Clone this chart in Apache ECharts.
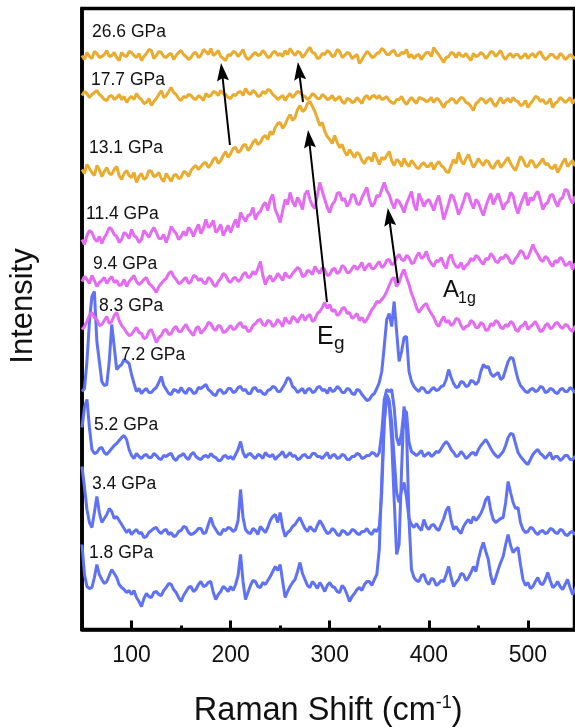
<!DOCTYPE html>
<html><head><meta charset="utf-8">
<script src="https://cdn.jsdelivr.net/npm/echarts@6/dist/echarts.min.js"></script>
<style>html,body{margin:0;padding:0;background:#fff}#c{width:575px;height:727px}</style>
</head><body><div id="c"></div>
<script>
// Raman shift grid (cm^-1)
const shifts = [
 50,52.5,55,57.5,60,62.5,65,67.5,70,72.5,75,77.5,80,82.5,85,87.5,90,92.5,95,97.5,
 100,102.5,105,107.5,110,112.5,115,117.5,120,122.5,125,127.5,130,132.5,135,137.5,140,142.5,145,147.5,
 150,152.5,155,157.5,160,162.5,165,167.5,170,172.5,175,177.5,180,182.5,185,187.5,190,192.5,195,197.5,
 200,202.5,205,207.5,210,212.5,215,217.5,220,222.5,225,227.5,230,232.5,235,237.5,240,242.5,245,247.5,
 250,252.5,255,257.5,260,262.5,265,267.5,270,272.5,275,277.5,280,282.5,285,287.5,290,292.5,295,297.5,
 300,302.5,305,307.5,310,312.5,315,317.5,320,322.5,325,327.5,330,332.5,335,337.5,340,342.5,345,347.5,
 350,352.5,355,357.5,360,362.5,365,367.5,370,372.5,375,377.5,380,382.5,385,387.5,390,392.5,395,397.5,
 400,402.5,405,407.5,410,412.5,415,417.5,420,422.5,425,427.5,430,432.5,435,437.5,440,442.5,445,447.5,
 450,452.5,455,457.5,460,462.5,465,467.5,470,472.5,475,477.5,480,482.5,485,487.5,490,492.5,495,497.5,
 500,502.5,505,507.5,510,512.5,515,517.5,520,522.5,525,527.5,530,532.5,535,537.5,540,542.5,545,547.5,
 550];

const pressures = ['1.8 GPa','3.4 GPa','5.2 GPa','7.2 GPa','8.3 GPa','9.4 GPa','11.4 GPa','13.1 GPa','17.7 GPa','26.6 GPa'];
// vertical stacking offsets (arbitrary intensity units)
const offsets = [40, 97, 172, 238, 300, 348, 390, 460, 532, 572];

const p18 = [
 45,15,3,1,2,12,25,15,10,6,8,14,20,16,12,5,2,0,-3,-1,
 -5,-1,-8,-12,-17,-9,-4,-7,-8,-3,-2,-5,-6,-1,2,6,5,0,-3,-8,
 -12,-6,-2,2,3,-2,0,5,8,3,4,7,8,-3,-10,-5,-2,3,1,-2,
 3,-1,5,14,35,8,-10,-3,4,9,8,3,2,7,5,9,13,18,23,19,
 25,8,-8,-2,3,7,10,18,27,16,10,4,2,8,5,1,7,3,-2,4,
 7,3,2,-2,-3,4,1,-5,-12,-7,-4,0,2,-1,5,8,8,4,10,15,
 40,110,170,192,185,150,90,35,45,120,183,160,70,20,12,9,8,14,15,8,
 5,11,10,4,6,9,8,15,23,12,3,7,10,16,15,9,12,17,23,18,
 30,40,47,38,30,14,5,12,20,27,33,45,55,44,37,40,42,25,10,4,
 7,1,3,8,12,6,5,10,17,9,2,4,8,3,0,5,10,2,-5,0,
 6];
const p34 = [
 66,45,23,10,5,20,36,20,10,14,18,24,21,14,16,12,8,4,0,3,
 -2,1,3,-1,0,-5,-4,0,2,4,5,1,-1,2,3,-2,0,-4,-3,1,
 2,6,5,0,-2,-1,1,4,4,-1,0,8,15,7,3,-1,-2,3,2,5,
 4,1,3,12,43,15,3,0,-1,4,2,-2,6,3,0,5,12,16,18,10,
 20,5,-4,0,2,6,8,12,15,9,4,1,6,3,1,7,12,8,3,-1,
 0,4,2,-2,-3,2,1,-2,-1,3,2,-1,-2,1,1,4,0,-2,3,1,
 6,40,110,138,132,110,75,40,30,42,50,35,14,8,5,9,5,2,13,6,
 3,7,8,4,2,8,14,22,26,12,3,6,2,-1,6,10,13,9,16,12,
 15,19,25,33,36,22,13,10,12,14,15,30,51,40,30,24,25,10,3,0,
 1,5,4,0,-2,1,2,-1,0,4,3,0,-1,3,2,-2,-3,0,1,-2,
 0];
const p52 = [
 30,50,58,30,8,4,5,9,10,5,3,6,9,12,14,17,20,22,18,8,
 2,-1,4,1,-1,2,3,0,0,4,2,-1,-2,2,1,3,4,-1,-3,1,
 2,4,0,-2,3,5,1,-1,-2,1,2,0,4,1,0,-3,-3,1,2,-1,
 1,-2,3,8,16,5,0,3,4,1,-1,3,2,-1,5,2,1,3,-2,1,
 3,6,0,2,5,1,2,-2,-1,2,3,0,0,4,4,1,1,-1,2,5,
 -1,2,3,-1,0,3,2,-2,-2,1,1,4,3,-1,0,2,2,5,4,1,
 5,25,58,68,66,68,50,20,12,25,48,45,15,6,4,2,4,7,1,3,
 5,1,3,6,5,9,13,16,13,8,5,1,2,6,3,-1,1,4,5,2,
 8,12,15,18,14,9,5,2,0,3,6,12,20,24,23,14,5,1,-2,-5,
 -7,-2,3,6,8,4,2,-1,2,5,-2,1,1,-3,-1,2,2,-2,-2,1,
 0];
const p72 = [
 0,3,30,70,95,100,50,30,10,6,7,30,67,45,22,25,27,32,30,28,
 17,8,0,3,-2,1,3,-1,-1,2,4,9,15,6,2,-2,-3,2,1,-1,
 4,0,-2,3,2,-2,-1,4,3,5,7,2,0,-3,-4,1,2,-2,-1,3,
 3,-1,0,4,5,1,2,-2,-2,3,4,0,1,-2,-3,1,2,5,4,0,
 0,4,8,14,12,5,3,-1,1,3,-2,2,3,-1,0,4,5,1,2,-2,
 4,0,1,5,3,-1,-1,3,2,-2,-3,2,1,-3,-6,-9,-8,-4,-2,3,
 9,20,45,72,78,65,90,60,30,40,54,55,20,10,5,2,0,4,3,-1,
 -1,2,4,1,2,5,6,12,22,14,8,4,5,10,9,5,6,11,10,7,
 10,20,27,24,25,18,15,17,19,12,14,22,30,34,33,22,12,6,3,0,
 -1,2,3,0,1,5,4,-1,0,3,2,-1,-2,2,3,0,0,4,2,-1,
 1];
const p83 = [
 0,3,8,14,17,12,10,4,5,9,13,6,8,14,17,9,4,1,-3,-6,
 -5,-1,2,-3,-4,-9,-8,-2,0,-6,-13,-8,-6,-1,0,-5,-4,1,3,-2,
 -2,2,5,0,-3,-6,1,3,-4,-1,2,7,6,1,-1,4,3,-3,-2,1,
 4,0,1,5,7,2,3,-2,-1,4,6,9,10,5,4,9,8,3,5,10,
 7,3,12,8,6,13,11,7,12,15,9,13,15,8,10,16,18,22,27,21,
 25,18,20,14,16,21,22,16,17,11,13,16,9,12,7,10,15,20,23,28,
 27,30,33,38,44,50,52,43,47,55,60,52,45,36,30,22,17,21,24,26,
 20,16,12,6,3,9,13,7,9,4,6,11,10,4,0,3,4,9,7,2,
 2,7,5,-1,0,6,4,9,7,2,1,5,3,8,6,0,-2,3,4,8,
 0,3,5,8,3,-2,-1,4,6,1,2,6,7,3,1,5,4,0,-2,3,
 2];
const p94 = [
 0,5,2,-2,6,1,-5,-1,1,4,-2,2,5,-1,1,-4,-3,2,-5,0,
 3,6,0,-3,-1,2,4,-2,-4,-7,-11,-5,-2,1,3,8,10,5,2,-2,
 -1,2,4,-2,0,6,5,1,3,-1,-2,4,2,-3,-5,0,3,8,6,1,
 -1,3,4,0,2,7,9,4,5,10,7,13,20,6,-3,3,6,0,3,8,
 5,1,9,5,4,8,11,14,12,5,6,11,10,7,15,11,8,14,12,6,
 7,12,13,8,10,16,14,9,9,13,16,12,15,19,11,15,18,13,13,17,
 20,14,16,21,22,17,18,24,27,22,21,26,24,18,19,25,29,23,25,30,
 22,18,15,21,20,24,17,13,23,27,19,15,14,19,12,16,18,23,21,26,
 24,20,17,23,22,28,25,20,19,24,23,27,24,19,18,23,26,31,29,23,
 24,30,37,31,27,22,20,25,23,18,15,21,19,24,22,16,17,20,12,18,
 14];
const p114 = [
 0,-5,4,9,7,1,-2,3,-4,2,6,12,10,5,3,-3,0,7,5,1,
 10,4,2,-3,0,9,6,2,8,12,7,1,1,5,-3,4,13,9,6,0,
 3,8,4,12,9,3,10,15,6,11,20,12,14,19,7,10,15,4,9,14,
 7,14,20,12,27,22,18,24,25,32,20,26,28,34,37,29,40,45,30,24,
 17,29,40,35,47,38,33,42,37,30,45,49,40,34,31,44,57,48,40,32,
 27,35,38,46,47,39,41,33,37,45,44,36,35,42,47,52,40,33,36,44,
 43,50,57,49,45,37,31,40,38,33,27,36,42,48,35,29,46,40,33,38,
 40,35,29,38,44,33,20,28,36,45,42,34,25,31,38,46,45,37,31,40,
 37,30,24,33,40,46,35,41,46,38,30,36,38,47,44,33,26,35,41,47,
 34,42,39,45,48,40,30,35,37,44,45,38,33,40,42,50,49,41,36,43,
 40];
const p131 = [
 0,-4,5,1,-3,-6,4,0,-7,-2,2,-4,-5,0,3,-6,-10,-4,-1,-6,
 -8,-3,-13,-7,-4,-10,-8,-1,-2,-7,-6,-3,-9,-12,-4,-8,-12,-6,-5,-9,
 -8,-2,-3,-7,-1,2,4,0,3,6,7,2,5,10,12,6,9,14,18,12,
 16,21,22,17,19,24,25,19,22,27,30,25,27,32,34,30,38,35,42,46,
 47,41,45,51,55,49,52,60,64,58,60,66,68,63,58,51,44,47,38,33,
 30,26,34,27,22,25,18,14,20,16,12,17,15,9,6,11,12,8,17,11,
 5,12,10,14,18,9,4,10,8,3,11,6,3,9,6,2,1,5,7,3,
 3,7,0,5,8,4,2,-2,-3,4,10,6,17,9,5,11,15,8,2,6,
 11,7,4,9,8,3,1,6,9,2,5,9,12,6,2,-1,6,13,10,4,
 3,9,8,2,4,7,11,5,6,2,1,5,-3,2,7,11,3,6,9,4,
 5];
const p177 = [
 2,6,4,0,3,5,7,3,1,-2,-3,1,2,-2,0,3,-2,1,-5,-1,
 1,-2,4,0,-2,-6,-5,-1,-8,-4,-1,3,7,0,2,6,10,5,3,-1,
 -3,1,0,3,2,-1,-2,2,0,-3,4,1,2,6,5,2,7,4,3,0,
 -1,3,2,5,6,2,9,5,3,7,5,1,2,6,4,8,7,3,1,-2,
 0,2,-3,1,4,0,3,6,5,2,1,-2,0,4,2,-1,-1,3,1,-2,
 -1,2,-3,-1,1,-4,-6,-1,-2,-5,-4,0,-3,-6,0,2,-2,1,2,-1,
 2,-2,-1,1,-3,-5,-6,-2,-2,1,-4,-7,-3,0,-3,-6,0,-1,-2,-4,
 -3,0,-5,-1,-2,-6,-10,-5,-4,-1,-2,-6,-3,0,-1,-5,-6,-9,-13,-6,
 -4,-1,-2,-6,-3,-1,-6,-9,-4,0,-6,-3,-1,-5,0,-3,-4,-8,-7,-3,
 -10,-6,-3,1,0,-4,-2,-6,-5,-1,-10,-6,-4,0,-2,-5,-3,0,-6,-2,
 -4];
const p266 = [
 2,-2,5,1,-1,6,4,0,1,3,7,1,2,5,0,-3,5,2,1,6,
 5,2,0,4,-3,1,4,8,7,-1,2,6,5,1,0,3,4,-2,2,5,
 7,3,1,-2,0,4,5,0,2,8,6,3,9,2,4,7,1,-1,-3,3,
 2,6,5,1,4,8,1,-2,0,3,5,2,3,7,4,0,1,5,6,2,
 4,1,7,3,9,5,2,6,5,0,3,7,10,5,4,-1,0,4,3,7,
 5,1,2,8,6,0,2,5,4,-1,1,3,-6,-2,2,6,4,0,1,4,
 5,9,7,3,3,6,7,2,2,5,4,8,0,3,-1,2,3,-2,2,5,
 5,1,10,6,3,-1,-5,0,1,5,4,0,5,2,1,4,0,-3,4,1,
 2,5,3,-1,2,6,5,1,4,7,1,-2,2,4,0,3,3,-1,1,4,
 -1,2,4,0,4,6,1,-2,0,3,3,0,-1,4,2,-2,0,3,1,-1,
 1];
const spectra = [p18, p34, p52, p72, p83, p94, p114, p131, p177, p266];

// arrows [fromShift, fromIntensity, toShift, toIntensity] (to = arrow-head centre)
const arrows = [
  [199.3, 484.5, 191.3, 557.5],
  [273.0, 527.5, 269.0, 558.5],
  [297.2, 327.5, 279.1, 490.5],
  [368.9, 346.5, 359.8, 412.5]
];

const FONT = '"Liberation Sans", Arial, Helvetica, sans-serif';
const BLUE = '#5F72F6', MAG = '#E36CF2', ORG = '#E9AC30';
const colorOf = i => i < 4 ? BLUE : (i < 7 ? MAG : ORG);

// label placement (pixels)
const labelPos = [[89,553],[92,484],[94,425],[121,355],[99,306],[93,264],[86,214],[89,148],[91,80],[92,32]];

const chart = echarts.init(document.getElementById('c'), null, {renderer: 'canvas'});

const series = spectra.map((rel, k) => ({
  type: 'line',
  name: pressures[k],
  data: shifts.map((x, i) => [x, offsets[k] + rel[i]]),
  showSymbol: false,
  symbol: 'none',
  lineStyle: {width: 3, color: colorOf(k)},
  itemStyle: {color: colorOf(k)},
  animation: false,
  silent: true,
  z: 2
}));
series[9].markLine = {
  silent: true,
  animation: false,
  symbol: ['none', 'path://M6,0 L12,18 L6,15 L0,18 Z'],
  symbolSize: 18,
  symbolKeepAspect: true,
  lineStyle: {color: '#000', width: 2, type: 'solid'},
  itemStyle: {color: '#000'},
  label: {show: false},
  emphasis: {disabled: true},
  data: arrows.map(a => [{coord: [a[0], a[1]]}, {coord: [a[2], a[3]]}])
};

const txt = (text, x, y, size) => ({
  type: 'text', x: x, y: y, silent: true, z: 10,
  style: {text: text, fontSize: size, fontFamily: FONT, fill: '#111',
    align: 'left', verticalAlign: 'middle', textAlign: 'left', textVerticalAlign: 'middle'}
});

const graphics = pressures.map((p, i) => txt(p, labelPos[i][0], labelPos[i][1], 17.5));
graphics.push(txt('E', 317, 337.5, 25));
graphics.push(txt('g', 334, 343.5, 19));
graphics.push(txt('A', 443, 290, 24));
graphics.push(txt('1g', 458, 299, 16));
graphics.push({
  type: 'text', x: 23, y: 306, rotation: Math.PI / 2, silent: true, z: 10,
  style: {text: 'Intensity', fontSize: 31, fontFamily: FONT, fill: '#111',
    align: 'center', verticalAlign: 'middle', textAlign: 'center', textVerticalAlign: 'middle'}
});

chart.setOption({
  animation: false,
  backgroundColor: '#fff',
  grid: {left: 82, right: 0.5, top: 8.5, bottom: 97.5, show: true, borderColor: '#000', borderWidth: 3.5,
    backgroundColor: 'transparent', containLabel: false, outerBoundsMode: 'none'},
  xAxis: {
    type: 'value', min: 50, max: 547,
    name: 'Raman Shift (cm{sup|-1})', nameLocation: 'middle', nameGap: 65,
    nameTextStyle: {fontFamily: FONT, fontSize: 32.5, color: '#111',
      rich: {sup: {fontFamily: FONT, fontSize: 18, color: '#111', verticalAlign: 'top'}}},
    axisLine: {show: true, onZero: false, lineStyle: {color: '#000', width: 3.5}},
    axisTick: {show: true, inside: true, length: 9, lineStyle: {color: '#000', width: 3}},
    minorTick: {show: true, splitNumber: 2, length: 4, lineStyle: {color: '#000', width: 3}},
    axisLabel: {show: true, margin: 15, fontSize: 23, color: '#111', fontFamily: FONT,
      showMinLabel: false, showMaxLabel: false},
    splitLine: {show: false}, minorSplitLine: {show: false}
  },
  yAxis: {
    type: 'value', min: 0, max: 621,
    axisLine: {show: true, onZero: false, lineStyle: {color: '#000', width: 3.5}},
    axisTick: {show: false}, axisLabel: {show: false}, splitLine: {show: false}
  },
  series: series,
  graphic: graphics
});
</script></body></html>
